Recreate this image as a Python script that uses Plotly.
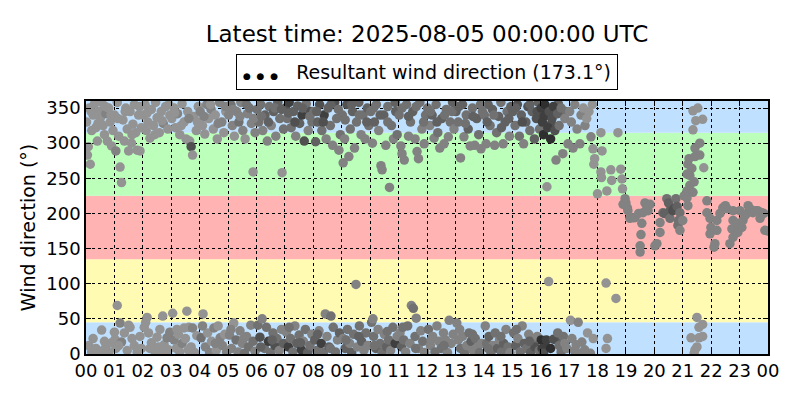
import plotly.graph_objects as go

title_text = "Latest time: 2025-08-05 00:00:00 UTC"
resultant_dir = 173.1
hour_ticks = list(range(0, 25))
hour_labels = ["%02d" % (h % 24) for h in hour_ticks]
dir_ticks = [0, 50, 100, 150, 200, 250, 300, 350]

# sector bands (degrees) and colours
band_lo = [0, 45, 135, 225, 315]
band_hi = [45, 135, 225, 315, 360]
band_colors = ["#bfe1ff", "#fffbb3", "#ffb3b3", "#bbffbb", "#bfe1ff"]

# observations: (hour, direction deg, speed-like shade value)
obs_00_04 = [
    (0.02, 330, 2), (0.05, 283, 2), (0.08, 295, 2), (0.12, 350, 2), (0.15, 270, 2), (0.2, 318, 2),
    (0.25, 340, 2), (0.3, 356, 2), (0.35, 322, 2), (0.4, 303, 2), (0.45, 345, 2), (0.5, 335, 2),
    (0.55, 358, 2), (0.6, 325, 2), (0.65, 312, 2), (0.7, 342, 3), (0.75, 303, 2), (0.8, 350, 2),
    (0.85, 330, 2), (0.9, 296, 2), (0.95, 318, 2), (1.0, 340, 2), (1.05, 289, 3), (1.1, 358, 2),
    (1.15, 310, 2), (1.2, 266, 2), (1.25, 244, 2), (1.3, 333, 2), (1.35, 303, 2), (1.4, 350, 2),
    (1.45, 320, 2), (1.5, 289, 2), (1.55, 345, 2), (1.6, 300, 2), (1.65, 327, 2), (1.7, 355, 2),
    (1.75, 315, 2), (1.8, 290, 2), (1.85, 340, 2), (1.9, 289, 2), (1.95, 322, 2),
    (0.1, 12, 2), (0.2, 3, 2), (0.35, 8, 2), (0.4, 1, 2), (0.55, 34, 2), (0.6, 5, 2), (0.7, 10, 2),
    (0.8, 2, 2), (0.9, 16, 2), (1.0, 31, 2), (1.02, 21, 2), (1.05, 8, 2), (1.1, 69, 2), (1.2, 44, 3),
    (1.25, 17, 3), (1.35, 30, 2), (1.45, 5, 2), (1.5, 41, 2), (1.55, 38, 2), (1.7, 12, 2),
    (1.8, 3, 2), (1.9, 25, 2), (1.95, 8, 2),
    (2.02, 340, 2), (2.08, 355, 2), (2.12, 318, 2), (2.18, 330, 2), (2.25, 307, 2), (2.3, 348, 2),
    (2.38, 325, 2), (2.45, 358, 2), (2.5, 336, 2), (2.58, 315, 2), (2.65, 345, 2), (2.72, 328, 3),
    (2.8, 352, 2), (2.88, 320, 2), (2.95, 340, 2),
    (2.05, 38, 2), (2.1, 45, 2), (2.15, 52, 2), (2.2, 30, 2), (2.3, 16, 2), (2.4, 5, 2), (2.5, 24, 2),
    (2.55, 10, 2), (2.65, 2, 2), (2.7, 54, 2), (2.75, 13, 2), (2.85, 23, 3), (2.9, 6, 2), (2.95, 31, 3),
    (3.02, 335, 2), (3.1, 350, 2), (3.15, 322, 2), (3.22, 342, 3), (3.3, 312, 2), (3.38, 356, 2),
    (3.45, 330, 2), (3.52, 306, 2), (3.58, 345, 2), (3.65, 303, 2), (3.7, 295, 6), (3.75, 283, 2),
    (3.8, 338, 2), (3.88, 318, 2), (3.95, 352, 2),
    (3.05, 58, 2), (3.1, 20, 3), (3.18, 8, 2), (3.25, 28, 2), (3.3, 3, 2), (3.38, 15, 3), (3.45, 37, 2),
    (3.5, 22, 2), (3.55, 61, 2), (3.62, 38, 2), (3.7, 10, 2), (3.75, 37, 3), (3.82, 2, 2), (3.9, 26, 2),
]

obs_04_08 = [
    (4.02, 345, 3), (4.1, 325, 2), (4.18, 313, 2), (4.25, 355, 3), (4.32, 335, 2), (4.4, 348, 3),
    (4.48, 320, 2), (4.55, 340, 2), (4.62, 306, 2), (4.7, 358, 3), (4.78, 330, 3), (4.85, 315, 2),
    (4.92, 345, 2),
    (4.05, 23, 4), (4.12, 57, 2), (4.2, 10, 3), (4.28, 30, 2), (4.35, 2, 3), (4.42, 18, 2), (4.5, 37, 3),
    (4.58, 5, 2), (4.65, 40, 2), (4.72, 23, 3), (4.8, 12, 3), (4.88, 28, 2), (4.95, 3, 3),
    (5.02, 340, 3), (5.1, 355, 4), (5.15, 325, 3), (5.22, 310, 2), (5.3, 345, 3), (5.38, 330, 4),
    (5.45, 358, 3), (5.52, 318, 3), (5.6, 306, 2), (5.68, 342, 3), (5.75, 350, 4), (5.82, 328, 3),
    (5.88, 259, 2), (5.95, 315, 3),
    (5.05, 27, 3), (5.12, 8, 3), (5.2, 44, 2), (5.28, 20, 4), (5.35, 3, 3), (5.42, 33, 3), (5.5, 15, 3),
    (5.58, 1, 4), (5.65, 25, 3), (5.72, 10, 4), (5.8, 41, 3), (5.88, 18, 4), (5.95, 4, 3),
    (6.02, 348, 4), (6.08, 330, 4), (6.15, 355, 4), (6.22, 318, 3), (6.3, 340, 5), (6.38, 303, 3),
    (6.45, 352, 4), (6.52, 325, 3), (6.6, 345, 5), (6.68, 310, 3), (6.75, 358, 5), (6.82, 335, 4),
    (6.9, 258, 2), (6.95, 320, 4),
    (6.05, 41, 4), (6.12, 24, 6), (6.2, 50, 3), (6.28, 8, 4), (6.35, 38, 4), (6.42, 18, 7), (6.5, 2, 4),
    (6.58, 30, 4), (6.65, 12, 6), (6.72, 22, 4), (6.8, 5, 3), (6.88, 35, 3), (6.95, 15, 5),
    (7.02, 350, 6), (7.08, 335, 4), (7.15, 358, 7), (7.22, 322, 4), (7.3, 345, 5), (7.38, 310, 3),
    (7.45, 353, 5), (7.52, 328, 5), (7.6, 340, 7), (7.68, 303, 6), (7.75, 356, 4), (7.82, 318, 3),
    (7.9, 345, 6), (7.95, 330, 4),
    (7.05, 31, 3), (7.12, 10, 7), (7.2, 22, 4), (7.28, 3, 4), (7.35, 40, 3), (7.42, 15, 5), (7.5, 27, 4),
    (7.58, 6, 7), (7.65, 18, 3), (7.72, 35, 4), (7.8, 2, 5), (7.88, 12, 4), (7.95, 28, 3),
]

obs_08_12 = [
    (8.02, 345, 4), (8.08, 302, 5), (8.15, 330, 5), (8.22, 355, 6), (8.3, 318, 4), (8.38, 340, 7),
    (8.45, 306, 3), (8.52, 350, 5), (8.6, 325, 4), (8.68, 297, 3), (8.75, 358, 6), (8.82, 335, 4),
    (8.9, 290, 3), (8.95, 312, 4),
    (8.05, 20, 5), (8.12, 5, 4), (8.2, 33, 3), (8.28, 15, 7), (8.35, 2, 4), (8.42, 57, 3), (8.48, 25, 3),
    (8.55, 10, 5), (8.62, 54, 4), (8.7, 38, 4), (8.78, 3, 4), (8.85, 20, 3), (8.92, 30, 5),
    (9.02, 340, 4), (9.05, 272, 3), (9.1, 306, 3), (9.18, 355, 6), (9.25, 281, 3), (9.3, 320, 4),
    (9.38, 345, 5), (9.45, 293, 3), (9.52, 330, 4), (9.6, 358, 5), (9.68, 312, 3), (9.75, 340, 4),
    (9.82, 306, 3), (9.9, 350, 5), (9.95, 325, 4),
    (9.05, 22, 3), (9.12, 8, 5), (9.2, 35, 4), (9.28, 15, 3), (9.35, 2, 5), (9.42, 28, 4), (9.5, 99, 3),
    (9.55, 10, 3), (9.62, 40, 4), (9.7, 18, 5), (9.78, 5, 3), (9.85, 30, 4), (9.92, 12, 3),
    (10.02, 345, 4), (10.08, 300, 3), (10.15, 330, 5), (10.22, 355, 4), (10.3, 318, 3), (10.38, 268, 3),
    (10.42, 262, 3), (10.48, 340, 5), (10.55, 297, 3), (10.62, 352, 4), (10.68, 237, 3), (10.75, 325, 4),
    (10.82, 306, 3), (10.9, 345, 5), (10.95, 312, 4),
    (10.05, 45, 4), (10.1, 50, 3), (10.12, 25, 4), (10.2, 8, 5), (10.28, 35, 3), (10.35, 15, 4),
    (10.42, 2, 4), (10.5, 28, 3), (10.58, 10, 5), (10.65, 20, 4), (10.72, 5, 3), (10.8, 38, 4),
    (10.88, 15, 7), (10.95, 25, 3),
    (11.02, 340, 4), (11.08, 296, 3), (11.12, 285, 3), (11.2, 276, 3), (11.28, 355, 4), (11.35, 310, 3),
    (11.42, 330, 4), (11.5, 345, 5), (11.58, 306, 3), (11.65, 288, 3), (11.7, 278, 3), (11.75, 358, 4),
    (11.82, 320, 3), (11.9, 299, 3), (11.95, 340, 4),
    (11.05, 30, 3), (11.1, 10, 5), (11.18, 20, 4), (11.25, 3, 3), (11.32, 40, 4), (11.4, 15, 3),
    (11.45, 69, 3), (11.52, 65, 4), (11.58, 25, 4), (11.62, 51, 3), (11.7, 8, 3), (11.78, 33, 3),
    (11.85, 18, 4), (11.92, 2, 3),
]

obs_12_16 = [
    (12.02, 350, 4), (12.1, 325, 3), (12.18, 340, 5), (12.25, 307, 3), (12.32, 355, 4), (12.38, 315, 4),
    (12.45, 293, 3), (12.52, 335, 5), (12.6, 299, 3), (12.68, 348, 4), (12.75, 309, 3), (12.82, 330, 4),
    (12.9, 358, 5), (12.95, 320, 3),
    (12.05, 35, 4), (12.12, 12, 3), (12.2, 25, 3), (12.28, 3, 4), (12.35, 40, 3), (12.42, 18, 3),
    (12.5, 8, 4), (12.58, 30, 3), (12.65, 20, 3), (12.72, 2, 3), (12.78, 48, 3), (12.85, 15, 3),
    (12.92, 28, 3),
    (13.02, 345, 5), (13.1, 330, 4), (13.18, 279, 3), (13.25, 355, 5), (13.3, 309, 3), (13.38, 340, 4),
    (13.45, 320, 5), (13.52, 296, 3), (13.6, 350, 4), (13.68, 297, 3), (13.75, 335, 5), (13.82, 312, 4),
    (13.9, 292, 3), (13.95, 345, 4),
    (13.05, 44, 3), (13.1, 20, 3), (13.18, 8, 4), (13.25, 25, 3), (13.32, 2, 4), (13.4, 12, 3),
    (13.48, 30, 4), (13.55, 18, 5), (13.62, 5, 3), (13.7, 22, 4), (13.78, 10, 3), (13.85, 2, 4),
    (13.92, 15, 3),
    (14.02, 340, 4), (14.08, 299, 3), (14.15, 355, 5), (14.22, 325, 4), (14.3, 348, 5), (14.38, 297, 3),
    (14.45, 315, 4), (14.52, 338, 5), (14.6, 358, 4), (14.68, 299, 3), (14.75, 330, 5), (14.82, 345, 4),
    (14.9, 310, 3), (14.95, 352, 5),
    (14.05, 40, 3), (14.1, 15, 4), (14.18, 25, 5), (14.25, 2, 4), (14.32, 12, 3), (14.4, 30, 4),
    (14.48, 8, 5), (14.55, 20, 3), (14.62, 3, 4), (14.7, 15, 5), (14.78, 35, 3), (14.85, 10, 4),
    (14.92, 2, 3),
    (15.02, 345, 5), (15.1, 325, 4), (15.18, 355, 6), (15.25, 310, 4), (15.32, 340, 5), (15.4, 299, 3),
    (15.48, 330, 5), (15.55, 352, 6), (15.62, 318, 4), (15.7, 345, 5), (15.78, 306, 5), (15.85, 335, 6),
    (15.92, 358, 5), (15.96, 320, 4),
    (15.05, 30, 4), (15.12, 12, 5), (15.2, 22, 3), (15.28, 3, 4), (15.35, 40, 3), (15.42, 15, 5),
    (15.5, 8, 4), (15.58, 28, 3), (15.65, 2, 5), (15.72, 18, 4), (15.8, 10, 6), (15.88, 25, 3),
    (15.95, 5, 4),
]

# further points in the dense northerly clouds (00-17 h)
obs_dense_north = [
    (0.18, 345, 2), (0.42, 328, 2), (0.68, 352, 2), (0.88, 340, 2),
    (1.12, 335, 2), (1.38, 345, 2), (1.62, 312, 2), (1.88, 352, 2),
    (2.15, 343, 2), (2.42, 312, 2), (2.68, 332, 2), (2.92, 355, 2),
    (3.12, 343, 2), (3.35, 325, 2), (3.62, 335, 3), (3.92, 330, 2),
    (4.15, 338, 3), (4.38, 355, 2), (4.65, 328, 3), (4.9, 352, 3),
    (5.18, 348, 3), (5.42, 338, 3), (5.65, 355, 4), (5.9, 335, 3),
    (6.18, 338, 4), (6.42, 330, 5), (6.65, 350, 4), (6.88, 348, 5),
    (7.12, 343, 5), (7.35, 330, 6), (7.62, 350, 5), (7.88, 338, 4),
    (8.12, 345, 5), (8.35, 330, 6), (8.62, 355, 5), (8.88, 348, 4),
    (9.12, 333, 4), (9.35, 355, 5), (9.62, 340, 4), (9.88, 330, 5),
    (10.12, 350, 4), (10.35, 340, 5), (10.62, 330, 4), (10.88, 358, 5),
    (11.12, 350, 4), (11.35, 338, 5), (11.62, 352, 4), (11.88, 330, 4),
    (12.12, 345, 4), (12.35, 330, 5), (12.62, 340, 4), (12.88, 345, 4),
    (13.12, 352, 5), (13.35, 328, 4), (13.62, 338, 5), (13.88, 355, 4),
    (14.12, 330, 5), (14.35, 340, 4), (14.62, 322, 5), (14.88, 335, 5),
    (15.12, 350, 5), (15.35, 330, 6), (15.62, 355, 5), (15.88, 345, 6),
    (16.12, 338, 7), (16.38, 328, 6), (16.62, 356, 5), (16.88, 345, 4),
    (0.25, 22, 2), (0.65, 18, 2), (1.15, 12, 2), (1.62, 22, 2), (2.25, 8, 2), (2.6, 35, 2),
    (3.2, 35, 2), (3.6, 6, 2), (4.1, 40, 3), (4.55, 15, 3), (5.1, 35, 3), (5.55, 22, 3),
    (6.15, 10, 5), (6.55, 20, 5), (7.15, 38, 4), (7.55, 16, 5), (8.15, 28, 5), (8.6, 8, 4),
    (9.15, 20, 4), (9.6, 25, 5), (10.15, 12, 4), (10.6, 32, 4), (11.15, 38, 4), (11.6, 8, 4),
    (12.15, 20, 3), (12.6, 12, 4), (13.15, 35, 3), (13.6, 28, 4), (14.15, 8, 4), (14.6, 25, 4),
    (15.15, 35, 4), (15.6, 18, 5), (16.15, 12, 7), (16.55, 20, 5),
]

obs_16_20 = [
    (16.02, 350, 7), (16.06, 330, 7), (16.1, 312, 8), (16.15, 355, 8), (16.2, 340, 7), (16.22, 238, 2),
    (16.25, 322, 7), (16.3, 345, 6), (16.35, 306, 8), (16.4, 335, 6), (16.45, 352, 7), (16.5, 318, 6),
    (16.54, 276, 3), (16.6, 342, 5), (16.65, 325, 4), (16.72, 350, 4), (16.78, 285, 3), (16.85, 335, 3),
    (16.96, 299, 3),
    (16.02, 20, 8), (16.05, 8, 7), (16.1, 1, 6), (16.2, 20, 7), (16.28, 103, 2), (16.35, 8, 8),
    (16.45, 21, 6), (16.6, 30, 4), (16.65, 12, 4), (16.72, 3, 4), (16.8, 25, 4), (16.85, 15, 3),
    (16.92, 8, 3),
    (17.02, 345, 3), (17.08, 330, 3), (17.14, 293, 3), (17.2, 355, 3), (17.28, 320, 3), (17.38, 299, 3),
    (17.42, 340, 3), (17.5, 350, 2), (17.56, 325, 3), (17.62, 335, 2), (17.7, 345, 2), (17.77, 309, 3),
    (17.84, 292, 2), (17.87, 270, 2), (17.9, 278, 2), (17.82, 355, 2),
    (17.05, 48, 2), (17.1, 22, 3), (17.18, 5, 3), (17.25, 13, 3), (17.32, 45, 3), (17.38, 1, 3),
    (17.45, 17, 3), (17.55, 6, 3), (17.65, 30, 2), (17.75, 1, 3), (17.85, 22, 2),
    (18.0, 228, 2), (18.12, 259, 2), (18.16, 289, 2), (18.14, 251, 2), (18.12, 315, 2), (18.3, 101, 2),
    (18.33, 232, 2), (18.35, 22, 2), (18.3, 8, 2), (18.47, 262, 2), (18.5, 247, 2), (18.65, 79, 2),
    (18.72, 315, 2), (18.82, 263, 2), (18.86, 249, 2), (18.88, 235, 2), (18.9, 213, 3), (18.97, 221, 3),
    (19.07, 204, 3), (19.0, 215, 3), (19.05, 208, 3), (19.14, 193, 3), (19.25, 194, 3), (19.32, 194, 3),
    (19.45, 200, 3), (19.5, 154, 3), (19.5, 145, 3), (19.53, 170, 3), (19.56, 186, 3), (19.6, 201, 3),
    (19.67, 215, 3), (19.74, 208, 3), (19.78, 204, 3), (19.85, 213, 3),
]

obs_20_24 = [
    (20.02, 154, 3), (20.09, 157, 3), (20.2, 173, 3), (20.2, 187, 3), (20.3, 201, 4), (20.35, 200, 5),
    (20.44, 221, 4), (20.5, 215, 5), (20.55, 204, 5), (20.55, 193, 4), (20.65, 204, 6), (20.7, 207, 6),
    (20.76, 221, 4), (20.8, 210, 5), (20.83, 183, 4), (20.85, 190, 4), (20.9, 176, 3), (20.9, 201, 4),
    (21.0, 190, 3),
    (21.05, 225, 3), (21.15, 222, 3), (21.18, 211, 3), (21.15, 232, 3), (21.25, 240, 3), (21.36, 230, 3),
    (21.25, 254, 3), (21.15, 256, 3), (21.4, 245, 3), (21.18, 270, 3), (21.32, 264, 3), (21.22, 278, 3),
    (21.43, 281, 3), (21.6, 283, 3), (21.43, 293, 3), (21.6, 300, 3), (21.74, 265, 2), (21.36, 346, 2),
    (21.53, 350, 2), (21.7, 334, 2), (21.46, 332, 2), (21.36, 319, 2),
    (21.29, 23, 2), (21.4, 1, 2), (21.43, 6, 2), (21.5, 10, 2), (21.5, 52, 2), (21.57, 38, 2),
    (21.57, 23, 2), (21.7, 42, 2), (21.7, 25, 2),
    (21.85, 218, 3), (21.85, 201, 3), (21.96, 193, 3), (21.99, 180, 3), (21.96, 171, 3),
    (22.13, 157, 3), (22.1, 152, 3), (22.2, 190, 3), (22.2, 176, 3), (22.31, 200, 3), (22.41, 208, 3),
    (22.55, 207, 3), (22.5, 211, 3), (22.66, 157, 3), (22.73, 178, 3), (22.77, 204, 3), (22.77, 190, 3),
    (22.77, 166, 3), (22.9, 186, 3), (22.94, 173, 3), (23.01, 204, 3), (23.08, 180, 3), (23.12, 190, 3),
    (23.19, 197, 3), (23.26, 200, 3), (23.3, 211, 3), (23.36, 207, 3), (23.47, 201, 3), (23.55, 204, 3),
    (23.64, 204, 3), (23.72, 193, 3), (23.79, 201, 3), (23.85, 200, 3), (23.89, 176, 3), (23.98, 175, 3),
]

all_obs = obs_00_04 + obs_04_08 + obs_08_12 + obs_12_16 + obs_dense_north + obs_16_20 + obs_20_24
hours = [o[0] for o in all_obs]
directions = [o[1] for o in all_obs]
shade = [o[2] for o in all_obs]

fig = go.Figure()
fig.add_trace(go.Scatter(
    x=hours, y=directions, mode="markers",
    marker=dict(size=9.5, color=shade, cmin=0, cmax=9,
                colorscale=[[0, "#b4b4b4"], [1, "#1e1e1e"]],
                showscale=False, line=dict(width=0)),
    showlegend=False, hoverinfo="x+y",
))

shapes = []
for lo, hi, col in zip(band_lo, band_hi, band_colors):
    shapes.append(dict(type="rect", xref="paper", yref="y", x0=0, x1=1, y0=lo, y1=hi,
                       fillcolor=col, line=dict(width=0), layer="below"))

font_family = "DejaVu Sans"
axis_common = dict(
    showline=True, linecolor="black", linewidth=1.5, mirror="ticks",
    ticks="inside", ticklen=5, tickcolor="black", tickwidth=1,
    showgrid=True, gridcolor="black", gridwidth=1, griddash="dot",
    zeroline=False, tickfont=dict(size=18, color="black", family=font_family),
)

# page body has an 8px margin, so the figure origin sits at (8, 8) in the window
fig.update_layout(
    width=800, height=400,
    margin=dict(l=78, r=40, t=93, b=54),
    paper_bgcolor="white", plot_bgcolor="white",
    font=dict(family=font_family, color="black"),
    shapes=shapes,
    title=dict(text=title_text, x=(78 + 760) / 2 / 800, xanchor="center",
               y=1 - 26 / 400, yanchor="middle", font=dict(size=23, color="black")),
    xaxis=dict(range=[0, 24], tickvals=hour_ticks, ticktext=hour_labels, **axis_common),
    yaxis=dict(range=[0, 360], tickvals=dir_ticks,
               title=dict(text="Wind direction (°)", font=dict(size=19, color="black"), standoff=6),
               **axis_common),
    annotations=[dict(
        xref="paper", yref="paper", x=0.5, y=1 + (93 - 64) / 253, xanchor="center", yanchor="middle",
        text="<span style='font-size:9px'>●&nbsp;&nbsp;●&nbsp;&nbsp;●</span>&nbsp;&nbsp;&nbsp;Resultant wind direction (%.1f°)" % resultant_dir,
        showarrow=False, font=dict(size=19, color="black"),
        bordercolor="black", borderwidth=1, borderpad=6, bgcolor="white",
    )],
)

fig.write_html("out.html")
